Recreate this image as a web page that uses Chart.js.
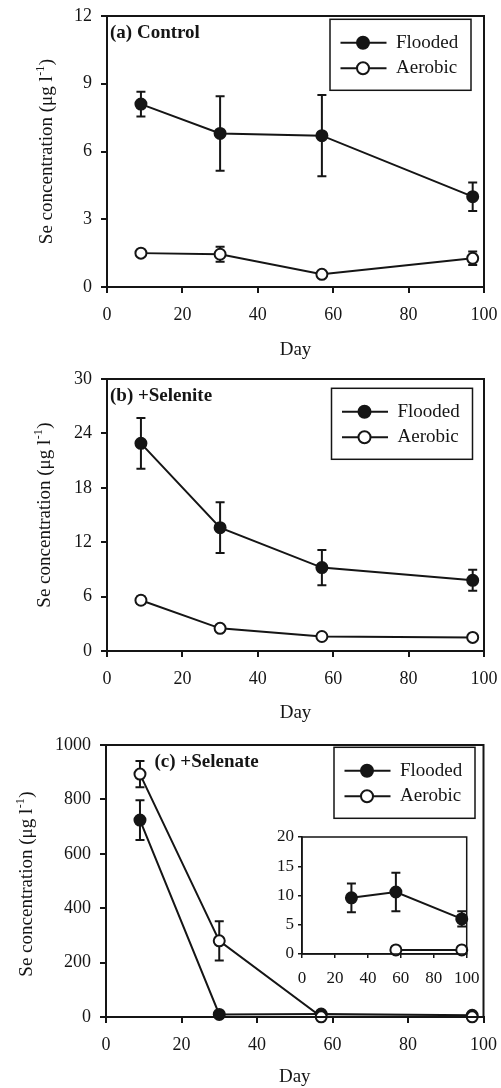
<!DOCTYPE html>
<html>
<head>
<meta charset="utf-8">
<script src="https://cdn.jsdelivr.net/npm/chart.js@4.4.1/dist/chart.umd.min.js"></script>
<style>
body { margin: 0; background: #fff; }
#wrap { position: relative; width: 501px; height: 1088px; background: #fff; }
canvas { position: absolute; }
</style>
</head>
<body>
<div id="wrap">
  <canvas id="chartA" width="501" height="362" style="left:0;top:0;width:501px;height:362px"></canvas>
  <canvas id="chartB" width="501" height="364" style="left:0;top:362px;width:501px;height:364px"></canvas>
  <canvas id="chartC" width="501" height="362" style="left:0;top:726px;width:501px;height:362px"></canvas>
  <canvas id="chartInset" width="250" height="180" style="left:230px;top:820px;width:250px;height:180px"></canvas>
</div>
<script>
// sampling days
var days = [9, 30, 57, 97];

// (a) control
var controlFlooded = [8.1, 6.8, 6.7, 4.0];
var controlFloodedErr = [0.55, 1.65, 1.8, 0.63];
var controlAerobic = [1.5, 1.45, 0.56, 1.27];
var controlAerobicErr = [0.1, 0.33, 0.1, 0.3];

// (b) +selenite
var seleniteFlooded = [22.9, 13.6, 9.2, 7.8];
var seleniteFloodedErr = [2.8, 2.8, 1.95, 1.15];
var seleniteAerobic = [5.6, 2.5, 1.6, 1.5];
var seleniteAerobicErr = [0.4, 0.2, 0.1, 0.1];

// (c) +selenate
var selenateFlooded = [724, 9.6, 10.6, 6.0];
var selenateFloodedErr = [73, 2.45, 3.3, 1.3];
var selenateAerobic = [893, 280, 0.7, 0.7];
var selenateAerobicErr = [48, 72, 0.1, 0.1];

// tick labels
var dayTicks = [0, 20, 40, 60, 80, 100];
var controlTicks = [0, 3, 6, 9, 12];
var seleniteTicks = [0, 6, 12, 18, 24, 30];
var selenateTicks = [0, 200, 400, 600, 800, 1000];
var insetTicks = [0, 5, 10, 15, 20];

var FONT = '"Liberation Serif", "Times New Roman", serif';
var INK = '#151515';

function points(ys) {
    return days.map(function (d, i) { return { x: d, y: ys[i] }; });
}

var errorBars = {
    id: 'errorBars',
    beforeDatasetsDraw: function (chart) {
        var ctx = chart.ctx, xs = chart.scales.x, ys = chart.scales.y;
        ctx.save();
        ctx.beginPath();
        chart.data.datasets.forEach(function (ds) {
            if (!ds.err) return;
            ds.data.forEach(function (p, i) {
                if (p.y == null) return;
                var x = xs.getPixelForValue(p.x);
                var y1 = ys.getPixelForValue(p.y + ds.err[i]);
                var y2 = ys.getPixelForValue(p.y - ds.err[i]);
                var c = 4.5;
                ctx.moveTo(x, y1); ctx.lineTo(x, y2);
                ctx.moveTo(x - c, y1); ctx.lineTo(x + c, y1);
                ctx.moveTo(x - c, y2); ctx.lineTo(x + c, y2);
            });
        });
        ctx.lineWidth = 2;
        ctx.strokeStyle = INK;
        ctx.stroke();
        ctx.restore();
    }
};

function drawMarker(ctx, x, y, filled, r) {
    ctx.beginPath();
    ctx.arc(x, y, r, 0, Math.PI * 2);
    ctx.fillStyle = filled ? INK : '#fff';
    ctx.fill();
    ctx.lineWidth = 2;
    ctx.strokeStyle = INK;
    ctx.stroke();
}

var decor = {
    id: 'decor',
    afterDraw: function (chart, args, o) {
        var ctx = chart.ctx, a = chart.chartArea;
        ctx.save();
        // frame round the plot
        ctx.lineWidth = o.frameWidth || 2;
        ctx.strokeStyle = INK;
        ctx.strokeRect(a.left, a.top, a.right - a.left, a.bottom - a.top);

        if (o.label) {
            ctx.font = 'bold 19px ' + FONT;
            ctx.fillStyle = INK;
            ctx.textBaseline = 'middle';
            ctx.textAlign = 'left';
            ctx.fillText(o.label, a.left + o.labelDx, a.top + o.labelDy);
        }

        if (o.yTitleX) {
            var main = 'Se concentration (\u03bcg l', sup = '-1', end = ')';
            ctx.font = '19px ' + FONT;
            var w1 = ctx.measureText(main).width, w3 = ctx.measureText(end).width;
            ctx.font = '12px ' + FONT;
            var w2 = ctx.measureText(sup).width + 1;
            var total = w1 + w2 + w3;
            ctx.translate(o.yTitleX, (a.top + a.bottom) / 2 + (o.yTitleShift || 0));
            ctx.rotate(-Math.PI / 2);
            ctx.fillStyle = INK;
            ctx.textBaseline = 'alphabetic';
            ctx.textAlign = 'left';
            var sx = -total / 2;
            ctx.font = '19px ' + FONT;
            ctx.fillText(main, sx, 0);
            ctx.font = '12px ' + FONT;
            ctx.fillText(sup, sx + w1 + 0.5, -8);
            ctx.font = '19px ' + FONT;
            ctx.fillText(end, sx + w1 + w2, 0);
            ctx.setTransform(1, 0, 0, 1, 0, 0);
        }

        if (o.legend) {
            var L = o.legend;
            var bx = a.right - L.dx - 141, by = a.top + L.dy;
            ctx.lineWidth = 1.5;
            ctx.strokeStyle = INK;
            ctx.strokeRect(bx, by, 141, 71);
            ctx.font = '19px ' + FONT;
            ctx.textBaseline = 'middle';
            ctx.textAlign = 'left';
            chart.data.datasets.forEach(function (ds, i) {
                var ry = by + 23.5 + i * 25.5;
                ctx.beginPath();
                ctx.moveTo(bx + 10.5, ry);
                ctx.lineTo(bx + 56.5, ry);
                ctx.lineWidth = 2;
                ctx.strokeStyle = INK;
                ctx.stroke();
                drawMarker(ctx, bx + 33, ry, ds.pointBackgroundColor !== '#fff', 6);
                ctx.fillStyle = INK;
                ctx.fillText(ds.label, bx + 66, ry);
            });
        }
        ctx.restore();
    }
};

function makeDatasets(fl, flErr, ae, aeErr, r) {
    return [
        {
            label: 'Flooded', data: points(fl), err: flErr,
            borderColor: INK, borderWidth: 2,
            pointBackgroundColor: INK, pointBorderColor: INK, pointBorderWidth: 2,
            pointRadius: r, pointHoverRadius: r, clip: false, order: 1
        },
        {
            label: 'Aerobic', data: points(ae), err: aeErr,
            borderColor: INK, borderWidth: 2,
            pointBackgroundColor: '#fff', pointBorderColor: INK, pointBorderWidth: 2,
            pointRadius: r, pointHoverRadius: r, clip: false, order: 0
        }
    ];
}

function makeChart(id, cfg) {
    var fs = cfg.fontSize || 18;
    var aw = cfg.axisWidth || 2;
    return new Chart(document.getElementById(id), {
        type: 'line',
        data: { datasets: cfg.datasets },
        plugins: [errorBars, decor],
        options: {
            responsive: false,
            animation: false,
            events: [],
            layout: { padding: { top: cfg.padTop, right: cfg.padRight, left: 0, bottom: 0 } },
            plugins: {
                legend: { display: false },
                tooltip: { enabled: false },
                decor: cfg.decor
            },
            scales: {
                x: {
                    type: 'linear', min: 0, max: 100,
                    afterBuildTicks: function (s) { s.ticks = dayTicks.map(function (v) { return { value: v }; }); },
                    afterFit: function (s) { s.height = cfg.xHeight; s.paddingLeft = 0; s.paddingRight = 0; },
                    border: { display: true, color: INK, width: aw },
                    grid: { drawOnChartArea: false, drawTicks: true, tickLength: cfg.tickLen || 6, color: INK, lineWidth: aw },
                    ticks: { color: INK, font: { family: FONT, size: fs }, padding: cfg.xPad, maxRotation: 0, autoSkip: false,
                             callback: function (v) { return String(v); } },
                    title: cfg.dayTitle ? { display: true, text: 'Day', color: INK, font: { family: FONT, size: 19 }, padding: { top: 0, bottom: cfg.dayPad } } : { display: false }
                },
                y: {
                    type: 'linear', min: cfg.yTicks[0], max: cfg.yTicks[cfg.yTicks.length - 1],
                    afterBuildTicks: function (s) { s.ticks = cfg.yTicks.map(function (v) { return { value: v }; }); },
                    afterFit: function (s) { s.width = cfg.yWidth; s.paddingTop = 0; s.paddingBottom = 0; },
                    border: { display: true, color: INK, width: aw },
                    grid: { drawOnChartArea: false, drawTicks: true, tickLength: cfg.tickLen || 6, color: INK, lineWidth: aw },
                    ticks: { color: INK, font: { family: FONT, size: fs }, padding: cfg.yPad,
                             callback: function (v) { return String(v); } }
                }
            }
        }
    });
}

makeChart('chartA', {
    datasets: makeDatasets(controlFlooded, controlFloodedErr, controlAerobic, controlAerobicErr, 5.5),
    yTicks: controlTicks, padTop: 16, padRight: 17, yWidth: 107, xHeight: 75,
    xPad: 11, yPad: 9, dayTitle: true, dayPad: 1,
    decor: { label: '(a) Control', labelDx: 3, labelDy: 17, yTitleX: 51.5, legend: { dx: 13, dy: 3.3 } }
});

makeChart('chartB', {
    datasets: makeDatasets(seleniteFlooded, seleniteFloodedErr, seleniteAerobic, seleniteAerobicErr, 5.5),
    yTicks: seleniteTicks, padTop: 17, padRight: 17, yWidth: 107, xHeight: 75,
    xPad: 11, yPad: 9, dayTitle: true, dayPad: 2,
    decor: { label: '(b) +Selenite', labelDx: 3, labelDy: 17.5, yTitleX: 49.5, legend: { dx: 11.5, dy: 9.3 } }
});

makeChart('chartC', {
    datasets: makeDatasets(selenateFlooded, selenateFloodedErr, selenateAerobic, selenateAerobicErr, 5.5),
    yTicks: selenateTicks, padTop: 19, padRight: 17.5, yWidth: 106, xHeight: 71,
    xPad: 11, yPad: 9, dayTitle: true, dayPad: 0,
    decor: { label: '(c) +Selenate', labelDx: 48.5, labelDy: 16.7, yTitleX: 31.5, yTitleShift: 3, legend: { dx: 8.5, dy: 2.3 } }
});

// inset shows only the values that fit its 0-20 range
function inRange(v) { return v <= insetTicks[insetTicks.length - 1] ? v : null; }
makeChart('chartInset', {
    datasets: makeDatasets(selenateFlooded.map(inRange), selenateFloodedErr, selenateAerobic.map(inRange), selenateAerobicErr, 5.5),
    yTicks: insetTicks, padTop: 17, padRight: 13.3, yWidth: 72, xHeight: 46,
    xPad: 10, yPad: 4, tickLen: 4, fontSize: 17, axisWidth: 1.5, dayTitle: false,
    decor: { frameWidth: 1.5 }
});
</script>
</body>
</html>
